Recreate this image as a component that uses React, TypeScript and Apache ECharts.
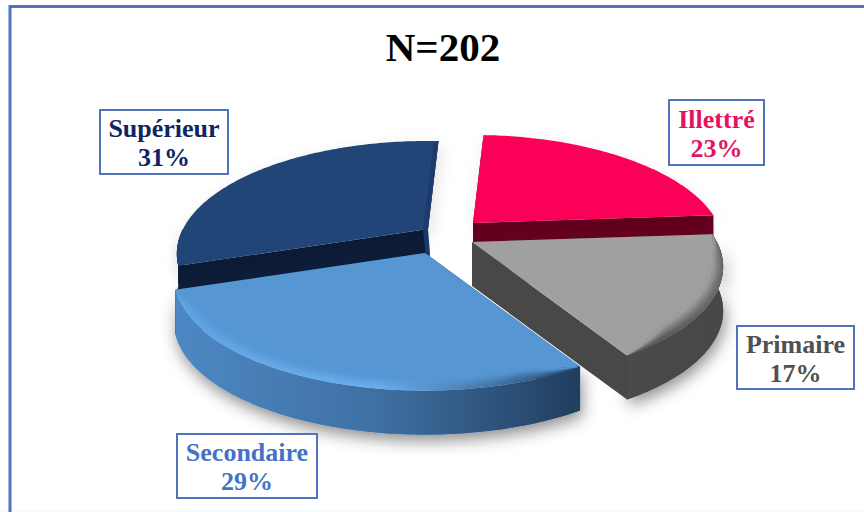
import React, { useEffect, useRef } from "react";
import * as echarts from "echarts";

const titleText = "N=202";
const categories = ["Illettré", "Primaire", "Secondaire", "Supérieur"];
const values = [23, 17, 29, 31];

const FONT = "'Liberation Serif', serif";
const BLUE = "#4f74bd";
const CENTER = [448, 240];
const START_DEG = 3;
const RX = 245;
const RY = 107.4;
const PERSPECTIVE = 0.22;
const DEPTH = 44;
const RIBBONS = 12;

type SliceStyle = {
  explode: number[];
  top: string;
  cut: string;
  endCut: string;
  wall: string[];
  rim: string[] | null;
  z2: number;
  label: string;
  box: number[];
  shadow: number;
};

const sliceStyles: SliceStyle[] = [
  { explode: [25, -17], top: "#fb0059", cut: "#66001f", endCut: "#66001f", wall: ["#66001f", "#66001f"], rim: null, z2: 10, label: "#e5125f", box: [669, 100, 95, 65], shadow: 0.1 },
  { explode: [24, 2], top: "#a0a0a0", cut: "#484848", endCut: "#484848", wall: ["#4a4a4a", "#474747"], rim: ["#4f4f4f", "#5a5a5a", "#6a6a6a"], z2: 30, label: "#505050", box: [737, 326, 117, 63], shadow: 0.45 },
  { explode: [-23, 13], top: "#5596d3", cut: "#1f3d5f", endCut: "#1f3d5f", wall: ["#4d88c4", "#3f70a3", "#213e5e"], rim: ["#62a4e2", "#6aaeee", "#27466a"], z2: 40, label: "#4472c4", box: [177, 434, 140, 64], shadow: 0.45 },
  { explode: [-20, -11], top: "#234478", cut: "#0d1c38", endCut: "#1c3a6a", wall: ["#0d1c38", "#0d1c38"], rim: null, z2: 20, label: "#0f2563", box: [100, 110, 128, 64], shadow: 0.12 },
];

const hex = (c: string) => [1, 3, 5].map((i) => parseInt(c.slice(i, i + 2), 16));
const mix = (a: string, b: string, t: number) => {
  const x = hex(a);
  const y = hex(b);
  return `rgb(${x.map((v, i) => Math.round(v + (y[i] - v) * t)).join(",")})`;
};
const rad = (d: number) => (d * Math.PI) / 180;

function project(apex: number[], rawDeg: number, r: number, z: number) {
  // the picture's camera pushes the front half of the disc slightly round
  const deg = rawDeg > 86 && rawDeg < 251 ? rawDeg + 2.3 * Math.sin((Math.PI * (rawDeg - 86)) / 165) : rawDeg;
  const c = Math.cos(rad(deg));
  const s = 1 / (1 + PERSPECTIVE * c);
  return [apex[0] + RX * r * Math.sin(rad(deg)) * s, apex[1] - RY * r * c * s + z];
}

function arc(apex: number[], a0: number, a1: number, fn: (deg: number) => [number, number]) {
  const steps = Math.max(8, Math.ceil(a1 - a0));
  const pts: number[][] = [];
  for (let i = 0; i <= steps; i++) {
    const d = a0 + ((a1 - a0) * i) / steps;
    const [r, z] = fn(d);
    pts.push(project(apex, d, r, z));
  }
  return pts;
}

const gradient = (stops: string[]) =>
  new echarts.graphic.LinearGradient(
    0,
    0,
    1,
    0,
    stops.map((color, i) => ({ offset: i / (stops.length - 1), color }))
  );

function renderSlice(params: any, api: any) {
  const idx = api.value(0);
  const st = sliceStyles[idx];
  const total = values.reduce((a, b) => a + b, 0);
  const before = values.slice(0, idx).reduce((a, b) => a + b, 0);
  const a0 = START_DEG + (before / total) * 360;
  const a1 = a0 + (api.value(1) / total) * 360;
  const apex = [CENTER[0] + st.explode[0], CENTER[1] + st.explode[1]];
  const z2 = st.z2;
  const children: any[] = [];
  const poly = (points: number[][], style: any) =>
    children.push({ type: "polygon", z2, silent: true, shape: { points }, style });
  const down = (p: number[]) => [p[0], p[1] + DEPTH];
  const shadow = {
    shadowBlur: 16,
    shadowColor: `rgba(0,0,0,${st.shadow})`,
    shadowOffsetX: 2,
    shadowOffsetY: 6,
  };

  const outer = arc(apex, a0, a1, () => [1, 0]);
  const first = outer[0];
  const last = outer[outer.length - 1];

  // only the front half of the rim shows a wall
  const w0 = Math.max(a0, 90);
  const w1 = Math.min(a1, 270);
  const front = w1 > w0 ? arc(apex, w0, w1, () => [1, 0]) : [];
  const wallPts = front.length ? [...front, ...front.slice().reverse().map(down)] : [];

  if (wallPts.length) poly(wallPts, { fill: st.wall[0], ...shadow });
  // cut faces; the far edge only shows as a sliver beside the top face
  poly([apex, first, down(first), down(apex)], { fill: st.cut });
  const farEdgeIsThin = a1 > 270;
  poly(
    farEdgeIsThin
      ? [apex, last, [last[0] - 5, last[1] + 3], [apex[0] - 5, apex[1] + 1], down(apex), [apex[0] + 2, apex[1] + 24]]
      : [apex, last, down(last), down(apex)],
    { fill: st.endCut }
  );
  if (wallPts.length) poly(wallPts, { fill: gradient(st.wall) });

  const inset = (t: number) => (d: number): [number, number] => {
    if (!st.rim) return [1, 0];
    const taper = Math.min(1, (d - a0) / 12, (a1 - d) / 12);
    return [1 - 0.05 * t * taper, -7 * t * taper];
  };
  // top face
  poly([apex, ...arc(apex, a0, a1, inset(1))], { fill: st.top, ...(st.rim ? {} : shadow) });
  if (farEdgeIsThin) {
    poly([apex, last, [last[0] - 5, last[1] + 3], [apex[0] - 5, apex[1] + 1]], { fill: st.endCut });
  }
  // soft rim between the top face and the outer wall: overlapping bands, outermost first
  if (st.rim) {
    const inner = arc(apex, a0, a1, inset(1)).reverse();
    for (let k = 0; k < RIBBONS; k++) {
      const t0 = k / RIBBONS;
      const u = t0 + 0.5 / RIBBONS;
      const eased = u * u * (3 - 2 * u);
      poly([...arc(apex, a0, a1, inset(t0)), ...inner], {
        fill: gradient(st.rim.map((c) => mix(c, st.top, eased))),
      });
    }
  }
  return { type: "group", children };
}

function labelGraphics() {
  return categories.flatMap((name, i) => {
    const st = sliceStyles[i];
    const [x, y, w, h] = st.box;
    return [
      {
        type: "rect",
        shape: { x, y, width: w, height: h },
        style: { fill: "#ffffff", stroke: BLUE, lineWidth: 2 },
        z: 5,
      },
      {
        type: "text",
        x: x + w / 2,
        y: y + h / 2 + 1,
        z: 6,
        style: {
          text: `${name}\n${values[i]}%`,
          fill: st.label,
          font: `bold 26px ${FONT}`,
          lineHeight: 29,
          align: "center",
          verticalAlign: "middle",
        },
      },
    ];
  });
}

export default function App() {
  const ref = useRef<HTMLDivElement>(null);
  useEffect(() => {
    document.body.style.margin = "0";
    const chart = echarts.init(ref.current!, null, { renderer: "svg" });
    chart.setOption({
      animation: false,
      backgroundColor: "#ffffff",
      title: {
        text: titleText,
        left: 438,
        top: 21,
        textAlign: "center",
        textStyle: { fontFamily: FONT, fontWeight: "bold", fontSize: 41, color: "#000000" },
      },
      graphic: [
        { type: "rect", shape: { x: 0, y: 510, width: 864, height: 2 }, style: { fill: "#f2fbfd" }, z: 1 },
        { type: "rect", shape: { x: 9, y: 5, width: 855, height: 3 }, style: { fill: BLUE }, z: 2 },
        { type: "rect", shape: { x: 8.5, y: 5, width: 3, height: 507 }, style: { fill: BLUE }, z: 2 },
        ...labelGraphics(),
      ],
      series: [
        {
          type: "custom",
          coordinateSystem: "none",
          silent: true,
          renderItem: renderSlice,
          data: categories.map((name, i) => ({ name, value: [i, values[i]] })),
        },
      ],
    });
    return () => chart.dispose();
  }, []);
  return <div ref={ref} style={{ position: "fixed", left: 0, top: 0, width: 864, height: 512 }} />;
}
